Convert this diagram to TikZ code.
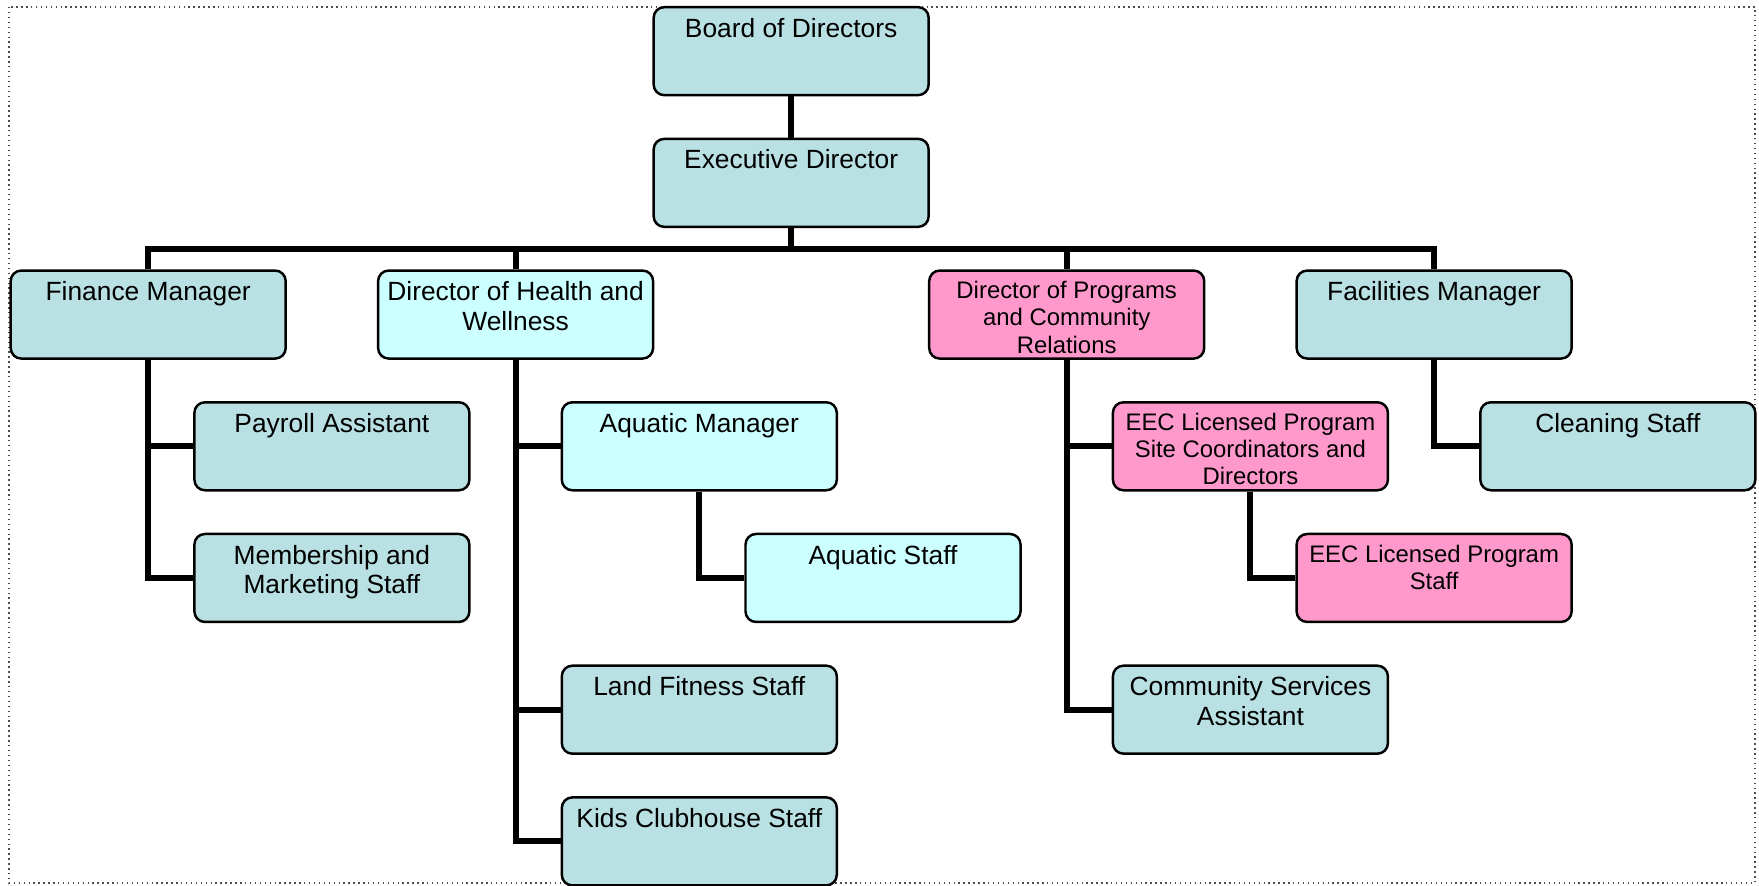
\documentclass[tikz,border=0pt]{standalone}
\usepackage{fontspec}
\setmainfont{Liberation Sans}
\usetikzlibrary{backgrounds}

\definecolor{orgteal}{RGB}{185,224,227}
\definecolor{orgcyan}{RGB}{204,255,255}
\definecolor{orgpink}{RGB}{255,153,204}

\newcommand{\boxtxt}[1]{\parbox[c][0.66cm][t]{2.6cm}{\centering #1}}

\begin{document}
\begin{tikzpicture}[x=1.837cm, y=-1.317cm,
    orgbox/.style={draw=black, line width=0.7pt, rounded corners=3pt, fill=orgteal,
        inner xsep=0.075cm, inner ysep=0.11cm, font={\fontsize{7.5}{8.5}\selectfont}},
    cyanbox/.style={orgbox, fill=orgcyan},
    pinkbox/.style={orgbox, fill=orgpink, font={\fontsize{6.8}{7.7}\selectfont}},
    link/.style={line width=1.7pt}]
    \useasboundingbox (0cm,0cm) rectangle (17.59cm,-8.85cm);
    \draw[densely dotted, line width=0.4pt, black!70] (0.09cm,-0.07cm) rectangle (17.55cm,-8.83cm);

    \begin{scope}[shift={(1.482cm,-0.5115cm)}]
        \node[orgbox] (board) at (3.5,0) {\boxtxt{Board of Directors}};
        \node[orgbox] (exec) at (3.5,1) {\boxtxt{Executive Director}};

        \node[orgbox] (finance) at (0,2) {\boxtxt{Finance Manager}};
        \node[cyanbox] (health) at (2,2) {\boxtxt{Director of Health and\\ Wellness}};
        \node[pinkbox] (programs) at (5,2) {\boxtxt{Director of Programs\\ and Community\\ Relations}};
        \node[orgbox] (facilities) at (7,2) {\boxtxt{Facilities Manager}};

        \node[orgbox] (payroll) at (1,3) {\boxtxt{Payroll Assistant}};
        \node[orgbox] (member) at (1,4) {\boxtxt{Membership and\\ Marketing Staff}};

        \node[cyanbox] (aquamgr) at (3,3) {\boxtxt{Aquatic Manager}};
        \node[cyanbox] (aquastaff) at (4,4) {\boxtxt{Aquatic Staff}};
        \node[orgbox] (land) at (3,5) {\boxtxt{Land Fitness Staff}};
        \node[orgbox] (kids) at (3,6) {\boxtxt{Kids Clubhouse Staff}};

        \node[pinkbox] (eecsite) at (6,3) {\boxtxt{EEC Licensed Program\\ Site Coordinators and\\ Directors}};
        \node[pinkbox] (eecstaff) at (7,4) {\boxtxt{EEC Licensed Program\\ Staff}};
        \node[orgbox] (commserv) at (6,5) {\boxtxt{Community Services\\ Assistant}};

        \node[orgbox] (cleaning) at (8,3) {\boxtxt{Cleaning Staff}};

        \coordinate (bus) at (3.5,1.5);

        \begin{pgfonlayer}{background}
            \draw[link] (board.south) -- (exec.north);
            \draw[link] (exec.south) -- (bus);
            \draw[link] (finance.north) -- (finance.north |- bus) -- (facilities.north |- bus) -- (facilities.north);
            \draw[link] (health.north) -- (health.north |- bus);
            \draw[link] (programs.north) -- (programs.north |- bus);

            \draw[link] (finance.south) |- (payroll.west);
            \draw[link] (finance.south) |- (member.west);

            \draw[link] (health.south) |- (aquamgr.west);
            \draw[link] (health.south) |- (land.west);
            \draw[link] (health.south) |- (kids.west);
            \draw[link] (aquamgr.south) |- (aquastaff.west);

            \draw[link] (programs.south) |- (eecsite.west);
            \draw[link] (programs.south) |- (commserv.west);
            \draw[link] (eecsite.south) |- (eecstaff.west);

            \draw[link] (facilities.south) |- (cleaning.west);
        \end{pgfonlayer}
    \end{scope}
\end{tikzpicture}
\end{document}
